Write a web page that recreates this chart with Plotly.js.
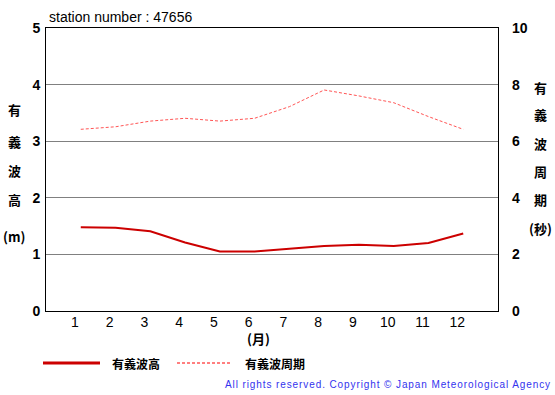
<!DOCTYPE html>
<html><head><meta charset="utf-8">
<script src="https://cdn.plot.ly/plotly-3.0.1.min.js"></script>
<style>body{margin:0;background:#fff}#c{width:555px;height:395px}</style>
</head><body><div id="c"></div>
<script>
const months = [1,2,3,4,5,6,7,8,9,10,11,12];
const monthLabels = ['1','2','3','4','5','6','7','8','9','10','11','12'];
const waveHeight = [1.48,1.47,1.41,1.21,1.05,1.05,1.10,1.15,1.17,1.15,1.20,1.37];
const wavePeriod = [6.42,6.51,6.71,6.81,6.71,6.81,7.22,7.81,7.60,7.36,6.87,6.42];
const leftTicks = [0,1,2,3,4,5];
const rightTicks = [0,2,4,6,8,10];
const leftTitle = ['有','義','波','高','(m)'];
const rightTitle = ['有','義','波','周','期','(秒)'];
const F = 'Liberation Sans, Arial, sans-serif';
const J = 'Noto Sans CJK JP, sans-serif';
const COPY = 'All rights reserved. Copyright © Japan Meteorological Agency';

const traces = [
  {x: months, y: waveHeight, type:'scatter', mode:'lines', line:{color:'#cc0000', width:2}, showlegend:false, hoverinfo:'skip'},
  {x: months, y: wavePeriod, type:'scatter', mode:'lines', yaxis:'y2', line:{color:'#ff5555', width:1, dash:'3px,2px'}, showlegend:false, hoverinfo:'skip'}
];

const px = x => (x-46)/452, py = y => (311-y)/283;
const annotations = [
  {xref:'paper', yref:'paper', x:px(47), y:py(17), yanchor:'middle', xanchor:'left', text:'station number : 47656', showarrow:false, font:{family:F, size:14, color:'#000'}},
  {xref:'paper', yref:'paper', x:px(258), y:py(338), yanchor:'middle', xanchor:'center', text:'<b>(月)</b>', showarrow:false, font:{family:J, size:13, color:'#000'}},
  {xref:'paper', yref:'paper', x:px(387.5), y:py(384), xanchor:'center', yanchor:'middle', text:COPY, showarrow:false, font:{family:F, size:10, color:'#3333ee'}},
  {xref:'paper', yref:'paper', x:px(110), y:py(363), xanchor:'left', yanchor:'middle', text:'<b>有義波高</b>', showarrow:false, font:{family:J, size:12, color:'#000'}},
  {xref:'paper', yref:'paper', x:px(243), y:py(363), xanchor:'left', yanchor:'middle', text:'<b>有義波周期</b>', showarrow:false, font:{family:J, size:12, color:'#000'}}
];
const lY = [110,141,170,199,237];
leftTitle.forEach((t,i)=>annotations.push({xref:'paper', yref:'paper', x:px(14), y:py(lY[i]), xanchor:'center', yanchor:'middle', text:'<b>'+t+'</b>', showarrow:false, font:{family:J, size:13, color:'#000'}}));
const rY = [87,115,143,171,199,229];
rightTitle.forEach((t,i)=>annotations.push({xref:'paper', yref:'paper', x:px(540), y:py(rY[i]), xanchor:'center', yanchor:'middle', text:'<b>'+t+'</b>', showarrow:false, font:{family:J, size:13, color:'#000'}}));

const shapes = [
  {type:'line', xref:'paper', yref:'paper', x0:px(43), x1:px(100), y0:py(363), y1:py(363), line:{color:'#cc0000', width:3}},
  {type:'line', xref:'paper', yref:'paper', x0:px(177), x1:px(232), y0:py(363), y1:py(363), line:{color:'#ff5555', width:1.5, dash:'3px,2px'}}
];

const layout = {
  width:555, height:395,
  margin:{l:46, r:57, t:28, b:84},
  paper_bgcolor:'#fff', plot_bgcolor:'#fff',
  showlegend:false,
  xaxis:{range:[0,13], tickvals:months, ticktext:monthLabels, showgrid:false, zeroline:false,
         showline:true, linecolor:'#000', linewidth:1, mirror:true, ticks:'', ticklabelshift:-6, ticklabelstandoff:-2,
         tickfont:{family:F, size:14, color:'#000'}, fixedrange:true},
  yaxis:{range:[0,5], tickvals:leftTicks, ticktext:leftTicks.map(v=>'<b>'+v+'</b>'), showgrid:true, gridcolor:'#808080', gridwidth:1,
         zeroline:false, showline:true, linecolor:'#000', linewidth:1, mirror:true, ticks:'',
         ticklabelstandoff:2, tickfont:{family:F, size:14, color:'#000'}, fixedrange:true},
  yaxis2:{range:[0,10], overlaying:'y', side:'right', tickvals:rightTicks, ticktext:rightTicks.map(v=>'<b>'+v+'</b>'),
          showgrid:false, zeroline:false, showline:false, ticks:'', ticklabelstandoff:13,
          tickfont:{family:F, size:14, color:'#000'}, fixedrange:true},
  annotations, shapes
};
Plotly.newPlot('c', traces, layout, {staticPlot:true}).then(()=>{
  document.querySelectorAll('#c text').forEach(t=>{
    if (t.textContent.indexOf('All rights') === 0) t.style.letterSpacing = '0.9px';
  });
});
</script></body></html>
